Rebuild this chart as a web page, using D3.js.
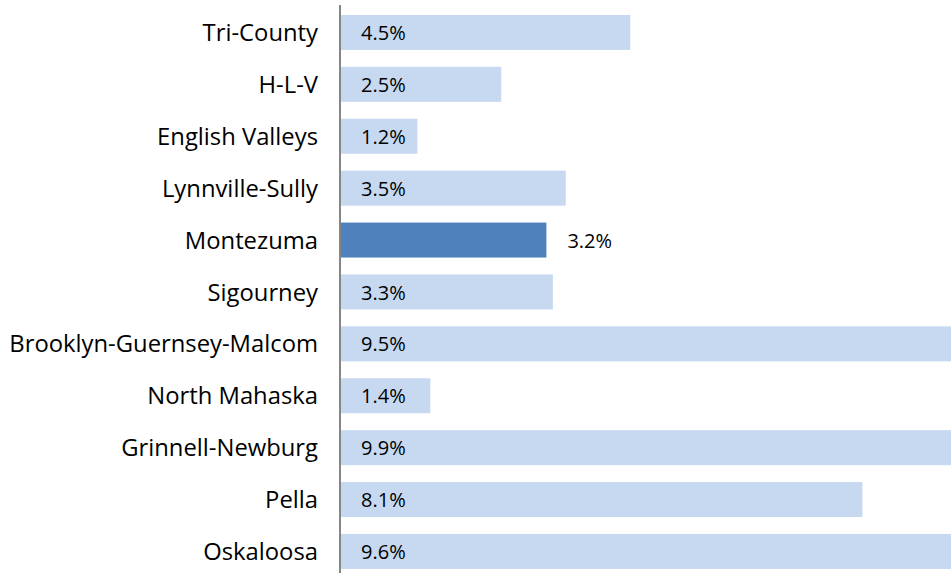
<!DOCTYPE html>
<meta charset="utf-8">
<style>
body { margin: 0; background: #fff; }
.cat text { font: 23.8px "Open Sans", sans-serif; fill: #000; }
.val { font: 20px "Open Sans", sans-serif; fill: #000; }
.bar { fill: #c6d9f1; }
.bar--hi { fill: #4f81bd; }
.axis-line { stroke: #868686; stroke-width: 2px; }
</style>
<svg width="951" height="573"></svg>
<script src="https://cdn.jsdelivr.net/npm/d3@7"></script>
<script>

var districts = ["Tri-County", "H-L-V", "English Valleys", "Lynnville-Sully", "Montezuma",
    "Sigourney", "Brooklyn-Guernsey-Malcom", "North Mahaska", "Grinnell-Newburg", "Pella", "Oskaloosa"];
var rates = [4.5, 2.5, 1.2, 3.5, 3.2, 3.3, 9.5, 1.4, 9.9, 8.1, 9.6];
var highlight = "Montezuma";

var data = districts.map(function(d, i) { return {name: d, value: rates[i]}; });

var svg = d3.select("svg"),
    width = +svg.attr("width"),
    height = +svg.attr("height");

var x = d3.scaleLinear()
    .domain([0, 10])
    .range([340, 985]);

var y = d3.scaleBand()
    .domain(districts)
    .range([6.5, 577.4])
    .paddingInner(0.326)
    .paddingOuter(0.163);

svg.append("g")
    .selectAll("rect")
    .data(data)
    .enter().append("rect")
      .attr("class", function(d) { return d.name == highlight ? "bar bar--hi" : "bar"; })
      .attr("x", x(0))
      .attr("y", function(d) { return y(d.name); })
      .attr("width", function(d) { return x(d.value) - x(0); })
      .attr("height", y.bandwidth());

// category axis, no ticks, just the line
var yAxis = svg.append("g")
    .attr("class", "cat")
    .attr("transform", "translate(" + x(0) + ",0)")
    .call(d3.axisLeft(y).tickSize(0).tickPadding(22));
yAxis.select(".domain").remove();
yAxis.selectAll("text").attr("dy", "0.36em");

svg.append("line")
    .attr("class", "axis-line")
    .attr("x1", x(0)).attr("x2", x(0))
    .attr("y1", 5).attr("y2", height);

svg.append("g")
    .selectAll("text")
    .data(data)
    .enter().append("text")
      .attr("class", "val")
      .attr("x", function(d) { return d.name == highlight ? x(d.value) + 21 : x(0) + 21; })
      .attr("y", function(d) { return y(d.name) + y.bandwidth() / 2; })
      .attr("dy", "0.38em")
      .text(function(d) { return d3.format(".1f")(d.value) + "%"; });

</script>
